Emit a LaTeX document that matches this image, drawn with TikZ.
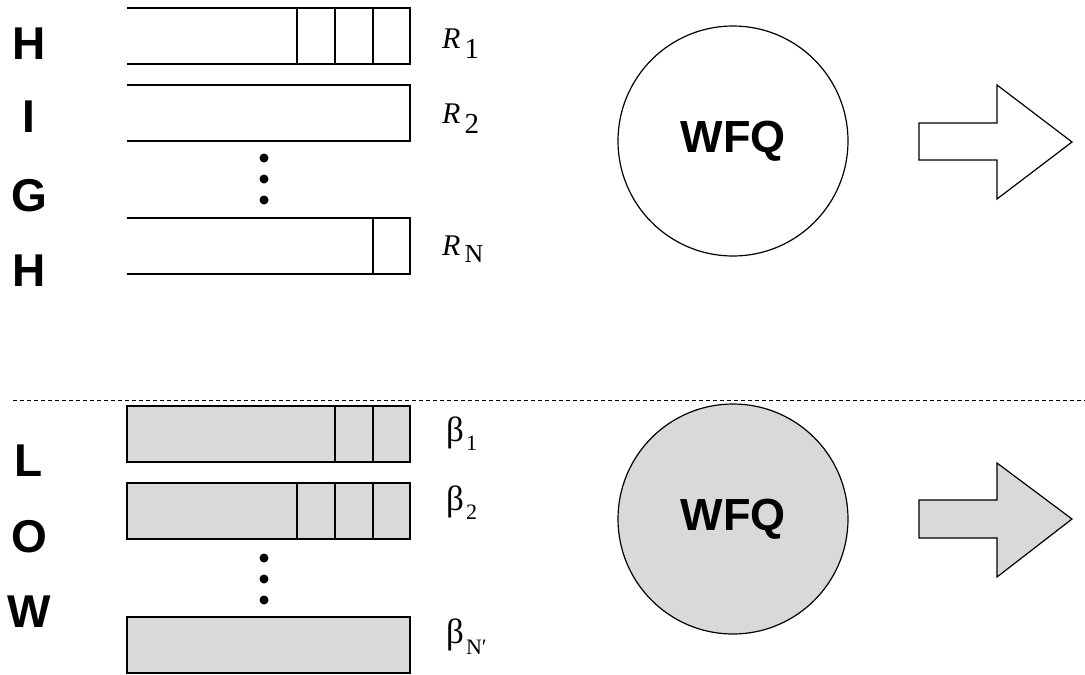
\documentclass[tikz,border=0pt]{standalone}
\usepackage{fontspec}
\setmainfont{Liberation Serif}
\newfontfamily\headsans{Liberation Sans}
\newfontfamily\labserif{Liberation Serif}
\definecolor{qfill}{RGB}{217,217,217}

% label pieces: a sized symbol on the baseline, and a lowered subscript
\newcommand{\qsym}[2]{\raisebox{0pt}{\labserif\fontsize{#2}{#2}\selectfont #1}}
\newcommand{\qsub}[3]{\raisebox{-#2pt}{\labserif\fontsize{#3}{#3}\selectfont\upshape #1}}

\begin{document}
\begin{tikzpicture}[x=1pt,y=-1pt,
  letter/.style={inner sep=0pt, font=\headsans\bfseries\fontsize{46}{46}\selectfont},
  qline/.style={line width=1.2pt, line join=miter},
  hiqueue/.style={qline, fill=white},
  loqueue/.style={qline, fill=qfill},
  divider/.style={qline},
  dotmark/.style={fill=black, draw=none},
  sched/.style={circle, draw, line width=1.2pt, minimum size=230pt, inner sep=0pt,
                font=\headsans\bfseries\fontsize{45}{45}\selectfont},
  outarrow/.style={line width=1.2pt, line join=miter},
  qlab/.style={anchor=base west, inner sep=0pt}
]
\useasboundingbox (0,0) rectangle (1085,675);

% ---- side captions ----
\node[letter] (h1) at (29,44)  {H};
\node[letter] (h2) at (29,117) {I};
\node[letter] (h3) at (29,196) {G};
\node[letter] (h4) at (29,271) {H};
\node[letter] (l1) at (29,461) {L};
\node[letter] (l2) at (29,537) {O};
\node[letter] (l3) at (29,612) {W};

% ---- high priority queues (open on the left) ----
\draw[hiqueue] (127,8) -- (410,8) -- (410,64) -- (127,64);
\foreach \x in {297,335,373} \draw[divider] (\x,8) -- (\x,64);
\draw[hiqueue] (127,85) -- (410,85) -- (410,141) -- (127,141);
\draw[hiqueue] (127,218) -- (410,218) -- (410,274) -- (127,274);
\draw[divider] (373,218) -- (373,274);
\foreach \y in {158,179,200} \fill[dotmark] (264,\y) circle (4.5pt);

\node[qlab] (r1) at (442,48)  {\qsym{\itshape R}{30}\hspace{4pt}\qsub{1}{10}{29}};
\node[qlab] (r2) at (442,123) {\qsym{\itshape R}{30}\hspace{4pt}\qsub{2}{10}{29}};
\node[qlab] (rn) at (442,255) {\qsym{\itshape R}{30}\hspace{4pt}\qsub{N}{7}{26}};

% ---- separator ----
\draw[line width=1pt, dash pattern=on 4pt off 3pt] (13,400) -- (1085,400);

% ---- low priority queues ----
\draw[loqueue] (127,406) rectangle (410,462);
\foreach \x in {335,373} \draw[divider] (\x,406) -- (\x,462);
\draw[loqueue] (127,483) rectangle (410,539);
\foreach \x in {297,335,373} \draw[divider] (\x,483) -- (\x,539);
\draw[loqueue] (127,617) rectangle (410,673);
\foreach \y in {558,579,600} \fill[dotmark] (264,\y) circle (4.5pt);

\node[qlab] (b1) at (446,441) {\qsym{β}{35}\hspace{2pt}\qsub{1}{9}{22}};
\node[qlab] (b2) at (446,510) {\qsym{β}{35}\hspace{2pt}\qsub{2}{9}{22}};
\node[qlab] (bn) at (446,643) {\qsym{β}{35}\hspace{2pt}\qsub{N′}{11}{22}};

% ---- schedulers ----
\node[sched, fill=white] (wfqH) at (733,141) {WFQ};
\node[sched, fill=qfill] (wfqL) at (733,519) {WFQ};

% ---- output arrows ----
\draw[outarrow, fill=white]
  (919,123) -- (997,123) -- (997,85) -- (1072,142) -- (997,199) -- (997,160) -- (919,160) -- cycle;
\draw[outarrow, fill=qfill]
  (919,500) -- (997,500) -- (997,463) -- (1072,519) -- (997,577) -- (997,538) -- (919,538) -- cycle;
\end{tikzpicture}
\end{document}
